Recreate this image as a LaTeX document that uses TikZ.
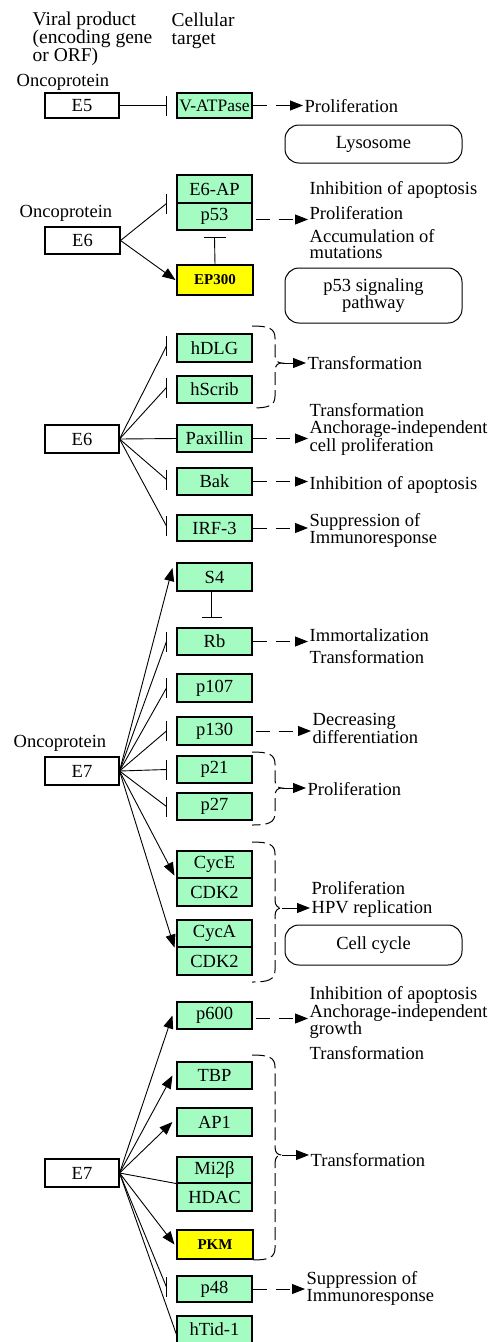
\documentclass[tikz,border=0pt]{standalone}
\usepackage{fontspec}
\setmainfont{Liberation Serif}
\usetikzlibrary{arrows.meta,calc}
\definecolor{kgreen}{RGB}{165,252,195}
\definecolor{kyellow}{RGB}{255,255,0}
\newcommand\kf{\fontsize{18.5pt}{17pt}\selectfont}
\newcommand\inhbar[1]{\draw[barl] ([yshift=10pt]#1) -- ([yshift=-10pt]#1);}
\newcommand\brkt[4]{%
  \draw[brk] (252,#2) .. controls (268,#2) and (275,#2+2) .. (275,#2+12) -- (275,#3-8)
    .. controls (275,#3-2) and (278,#3) .. (282,#3)
    .. controls (278,#3) and (275,#3+2) .. (275,#3+8) -- (275,#4-12)
    .. controls (275,#4-2) and (268,#4) .. (252,#4);
  \coordinate (#1) at (282,#3);}
\tikzset{
  gene/.style={draw, fill=kgreen, line width=1.1pt, minimum width=75pt, minimum height=27pt, inner sep=0pt, font=\kf},
  viral/.style={draw, fill=white, line width=1.1pt, minimum width=74pt, minimum height=28pt, inner sep=0pt, font=\kf},
  ygene/.style={gene, fill=kyellow, minimum width=76pt, font=\fontsize{15pt}{15pt}\selectfont\bfseries},
  mapbox/.style={draw, line width=1pt, rounded corners=14pt, minimum width=177pt, inner sep=0pt, align=center, font=\kf},
  lbl/.style={anchor=west, inner sep=1.5pt, align=left, font=\kf},
  ln/.style={line width=0.9pt},
  barl/.style={line width=1.2pt},
  act/.style={line width=0.9pt, -{Triangle[length=13pt,width=10pt]}},
  dact/.style={act, dash pattern=on 14pt off 9pt},
  brk/.style={line width=1pt, dash pattern=on 13pt off 5pt},
}
\begin{document}
\begin{tikzpicture}[x=1pt,y=-1pt]
\useasboundingbox (0,0) rectangle (494,1342);
\clip (0,0) rectangle (494,1342);
% header
\node[lbl, font=\fontsize{19.5pt}{18pt}\selectfont] (hv) at (31,39) {Viral product\\(encoding gene\\or ORF)};
\node[lbl, font=\fontsize{19.5pt}{18pt}\selectfont] (hc) at (170,30.5) {Cellular\\target};
% ---------- E5
\node[lbl] (onc1) at (15,82) {Oncoprotein};
\node[viral, minimum height=25pt] (E5) at (82,105.5) {E5};
\node[gene, minimum height=25pt, font=\fontsize{17.5pt}{17pt}\selectfont] (Vatp) at (214.5,105.5) {V-ATPase};
\coordinate (iV) at ([xshift=-10pt]Vatp.west);
\draw[ln] (E5.east) -- (iV); \inhbar{iV}
\node[lbl] (tP1) at (303,106) {Proliferation};
\draw[dact] (Vatp.east) -- (Vatp.east -| tP1.west);
\node[mapbox, minimum height=38pt] (lyso) at (373.5,144) {Lysosome};
% ---------- E6 (top)
\node[lbl] (onc2) at (18,213) {Oncoprotein};
\node[viral, minimum width=75pt, minimum height=27pt] (E6a) at (82.5,240.5) {E6};
\node[gene, minimum height=28pt] (E6AP) at (214.5,189) {E6-AP};
\node[gene] (p53) at (214.5,216.5) {p53};
\node[ygene, minimum height=30pt] (EP300) at (215,280) {EP300};
\coordinate (iE6AP) at ([xshift=-10pt]E6AP.south west);
\draw[ln] (E6a.east) -- (iE6AP); \inhbar{iE6AP}
\draw[act] (E6a.east) -- ([xshift=-1pt]EP300.west);
\coordinate (ip53) at ([yshift=-7pt]p53.south);
\draw[ln] (EP300.north) -- (ip53);
\draw[barl] ([xshift=-11pt]ip53) -- ([xshift=11pt]ip53);
\node[lbl] (tIA1) at (308,190) {Inhibition of apoptosis};
\node[lbl] (tP2) at (308,213) {Proliferation};
\node[lbl, font=\fontsize{18.5pt}{16pt}\selectfont] (tAM) at (308,244) {Accumulation of\\mutations};
\draw[dact] ([xshift=3pt,yshift=-3pt]p53.east) -- ([yshift=-3pt]p53.east -| tP2.west);
\node[mapbox, minimum height=55pt] (p53map) at (373.5,295.5) {p53 signaling\\pathway};
% ---------- E6 (second)
\node[viral] (E6b) at (82,439) {E6};
\node[gene, minimum height=28pt] (hDLG) at (214.5,348) {hDLG};
\node[gene] (hScrib) at (214.5,389.5) {hScrib};
\node[gene] (Pax) at (214.5,438.5) {Paxillin};
\node[gene] (Bak) at (214.5,481.5) {Bak};
\node[gene, minimum height=26pt] (IRF) at (214.5,528) {IRF-3};
\foreach \g in {hDLG,hScrib,Bak,IRF}{
  \coordinate (i\g) at ([xshift=-10pt,yshift=2pt]\g.west);
  \draw[ln] (E6b.east) -- (i\g); \inhbar{i\g}
}
\draw[ln] (E6b.east) -- (Pax.west);
\brkt{bk1}{326}{363}{408}
\node[lbl] (tT1) at (306,363) {Transformation};
\draw[act] (bk1) -- (bk1 -| tT1.west);
\node[lbl] (tPax) at (308,429) {Transformation\\Anchorage-independent\\cell proliferation};
\draw[dact] (Pax.east) -- (Pax.east -| tPax.west);
\node[lbl] (tIA2) at (308,485) {Inhibition of apoptosis};
\draw[dact] (Bak.east) -- (Bak.east -| tIA2.west);
\node[lbl] (tSI1) at (308,530.5) {Suppression of\\Immunoresponse};
\draw[dact] (IRF.east) -- (IRF.east -| tSI1.west);
% ---------- E7 (first)
\node[lbl] (onc3) at (12,743) {Oncoprotein};
\node[viral] (E7a) at (82,771) {E7};
\node[gene, minimum height=28pt] (S4) at (214.5,577) {S4};
\node[gene] (Rb) at (214.5,641.5) {Rb};
\node[gene, minimum height=28pt] (p107) at (214.5,688) {p107};
\node[gene, minimum height=28pt] (p130) at (214.5,731) {p130};
\node[gene] (p21) at (214.5,769.5) {p21};
\node[gene] (p27) at (214.5,806.5) {p27};
\draw[act] (E7a.east) -- ([xshift=-4pt,yshift=9pt]S4.west);
\coordinate (iRb) at ([xshift=-3pt,yshift=10pt]Rb.north);
\draw[ln] (S4.south -| iRb) -- (iRb);
\draw[barl] ([xshift=-10pt]iRb) -- ([xshift=10pt]iRb);
\foreach \g in {Rb,p107,p130,p21,p27}{
  \coordinate (i\g) at ([xshift=-10pt]\g.west);
  \draw[ln] (E7a.east) -- (i\g); \inhbar{i\g}
}
\node[lbl] (tIm) at (308,635) {Immortalization};
\node[lbl] (tT2) at (308,657) {Transformation};
\draw[dact] (Rb.east) -- (Rb.east -| tIm.west);
\node[lbl] (tDD) at (311,728.5) {Decreasing\\differentiation};
\draw[dact] ([xshift=3pt]p130.east) -- (p130.east -| tDD.west);
\brkt{bk2}{752}{788}{825}
\node[lbl] (tP3) at (306,789) {Proliferation};
\draw[act] (bk2) -- (bk2 -| tP3.west);
\node[gene] (CycE) at (214.5,864.5) {CycE};
\node[gene, minimum height=28pt] (CDK2a) at (214.5,892) {CDK2};
\node[gene] (CycA) at (214.5,933.5) {CycA};
\node[gene, minimum height=28pt] (CDK2b) at (214.5,961) {CDK2};
\draw[act] (E7a.east) -- ([xshift=-2pt,yshift=3pt]CycE.south west);
\draw[act] (E7a.east) -- ([xshift=-2pt]CycA.south west);
\brkt{bk3}{842}{908}{982}
\node[lbl] (tP4) at (310,888) {Proliferation};
\node[lbl] (tHPV) at (310,909) {HPV replication};
\draw[act] (bk3) -- (bk3 -| tHPV.west);
\node[mapbox, minimum height=40pt] (ccmap) at (373.5,945) {Cell cycle};
% ---------- E7 (second)
\node[viral] (E7b) at (82,1173) {E7};
\node[gene] (p600) at (214.5,1015.5) {p600};
\node[gene] (TBP) at (214.5,1075.5) {TBP};
\node[gene, minimum height=28pt] (AP1) at (214.5,1122) {AP1};
\node[gene, minimum height=26pt] (Mi2b) at (214.5,1170) {Mi2β};
\node[gene, minimum height=28pt] (HDAC) at (214.5,1197) {HDAC};
\node[ygene, minimum height=29pt] (PKM) at (215,1244.5) {PKM};
\node[gene, minimum height=26pt] (p48) at (214.5,1289) {p48};
\node[gene] (hTid) at (214.5,1329.5) {hTid-1};
\draw[act] (E7b.east) -- ([xshift=-4pt]p600.west);
\draw[act] (E7b.east) -- ([xshift=-4pt]TBP.west);
\draw[act] (E7b.east) -- ([xshift=-4pt]AP1.west);
\draw[ln] (E7b.east) -- (Mi2b.south west);
\draw[act] (E7b.east) -- ([xshift=-2pt]PKM.west);
\coordinate (ip48) at ([xshift=-10pt,yshift=2pt]p48.west);
\draw[ln] (E7b.east) -- (ip48); \inhbar{ip48}
\draw[ln] (E7b.east) -- ([yshift=-5pt]hTid.west);
\node[lbl] (tIA3) at (308,995) {Inhibition of apoptosis};
\node[lbl] (tAG) at (308,1021.5) {Anchorage-independent\\growth};
\node[lbl] (tT3) at (308,1053) {Transformation};
\draw[dact] ([xshift=3pt,yshift=-3pt]p600.east) -- ([yshift=-3pt]p600.east -| tAG.west);
\brkt{bk4}{1055}{1155}{1260}
\node[lbl] (tT4) at (309,1160) {Transformation};
\draw[act] (bk4) -- (bk4 -| tT4.west);
\node[lbl] (tSI2) at (305,1288.5) {Suppression of\\Immunoresponse};
\draw[dact] (p48.east) -- (p48.east -| tSI2.west);
\end{tikzpicture}
\end{document}
